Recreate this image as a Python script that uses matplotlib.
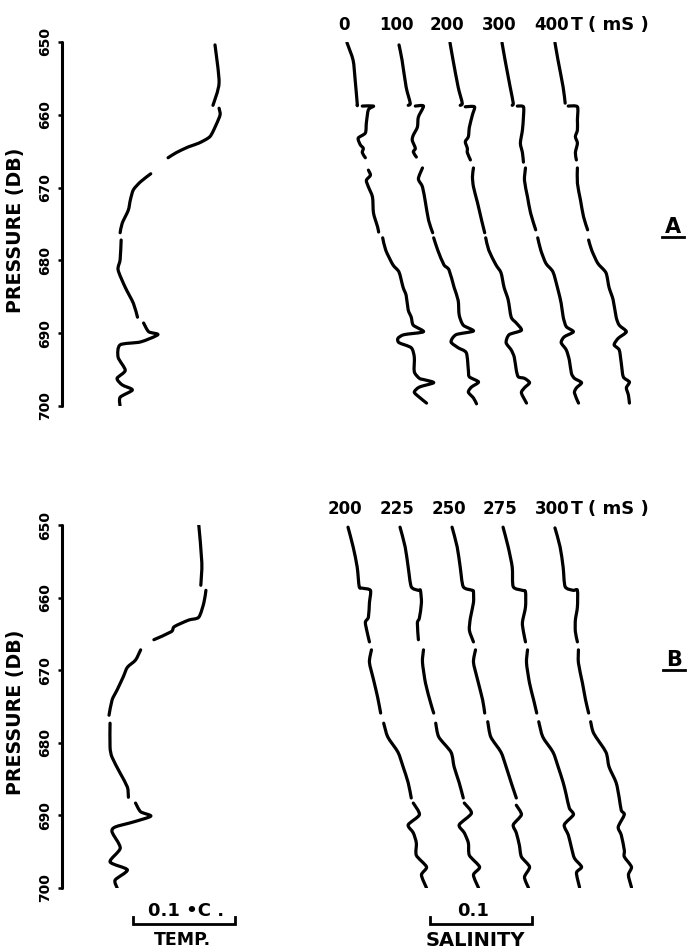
import numpy as np
import matplotlib
matplotlib.use("Agg")
import matplotlib.pyplot as plt
from matplotlib.lines import Line2D
from matplotlib.path import Path
from matplotlib.patches import PathPatch

nan = np.nan

# ---------------------------------------------------------------------------
# Profiles: pressure (dbar) and anomalies in thousandths (m°C / 0.001 salinity)
# nan marks a break in the plotted trace
# ---------------------------------------------------------------------------
temp_a_p = [650.4, 655.6, 658.7, 658.9, 659.1, 660.0, 661.4, 663.0, 663.9, 664.4,
            665.2, 665.9, 667.0, 668.1, 669.2, 670.3, 671.7, 673.1, 674.9, 676.2,
            676.7, 677.2, 679.9, 681.3, 683.7, 685.9, 687.8, 688.2, 688.6, 689.8,
            690.2, 691.2, 691.6, 693.3, 695.1, 696.2, 697.1, 697.8, 698.8, 700.1]
temp_a = [98, 102, 96, nan, 102, 103, 99, 93, 82, 72,
          60, 52, nan, 35, 25, 18, 15, 13, 7, 5,
          nan, 6, 5, 3, 10, 18, 22, nan, 28, 33,
          42, 25, 5, 3, 10, 2, 7, 17, 5, 5]

temp_b_p = [650.0, 655.2, 658.3, 658.6, 659.0, 660.7, 662.7, 663.1, 664.0, 664.7,
            665.8, 666.5, 667.2, 668.6, 669.6, 670.9, 672.7, 674.1, 676.2, 676.8,
            677.3, 680.6, 682.0, 684.2, 686.1, 687.5, 687.9, 688.3, 689.5, 690.1,
            690.9, 691.6, 692.3, 694.5, 696.4, 697.5, 698.9, 700.0]
temp_b = [89, 92, 91, nan, 96, 94, 89, 79, 65, 62,
          45, nan, 32, 27, 19, 15, 9, 4, 1, nan,
          2, 2, 4, 12, 19, 20, nan, 27, 32, 42,
          25, 7, 4, 12, 2, 19, 7, 9]

# Panel A salinity traces, T = 0 ... 400 ms
sal_a0_p = [650.1, 652.5, 655.2, 658.4, 658.7, 658.75, 658.8, 658.8, 659.3, 661.1,
            662.5, 663.2, 664.1, 664.6, 665.2, 665.9, 666.8, 667.6, 668.3, 669.0,
            669.9, 671.3, 673.5, 675.4, 676.1, 676.5, 676.9, 678.6, 680.6, 681.6,
            683.7, 684.8, 686.8, 687.8, 688.9, 689.8, 690.2, 690.7, 691.3, 692.0,
            693.3, 695.3, 696.2, 696.4, 696.8, 697.4, 698.1, 698.8, 699.6]
sal_a0 = [0, 6, 8, 10, 10, nan, 15, 26, 21, 19,
          18, 11, 13, 16, 15, 18, nan, 21, 23, 19,
          21, 25, 26, 30, 31, nan, 35, 38, 45, 51,
          55, 58, 60, 63, 65, 75, 56, 50, 51, 63,
          66, 66, 71, 76, 85, 71, 66, 71, 78]

sal_a1_p = [650.4, 652.5, 656.2, 658.4, 658.7, 658.75, 658.8, 658.8, 660.3, 661.7,
            662.8, 663.5, 664.6, 665.1, 665.8, 666.5, 667.3, 668.8, 669.9, 672.1,
            674.5, 676.2, 676.5, 676.9, 678.6, 680.6, 681.3, 683.7, 685.5, 687.5,
            688.9, 689.7, 690.2, 691.2, 692.0, 692.7, 695.1, 696.0, 696.7, 697.4,
            698.1, 698.9, 699.7]
sal_a1 = [0, 3, 7, 11, 9, nan, 16, 24, 19, 18,
          14, 13, 16, 14, 17, nan, 23, 19, 23, 26,
          29, 33, nan, 34, 38, 44, 49, 54, 58, 59,
          63, 73, 56, 51, 58, 66, 68, 69, 78, 71,
          68, 73, 76]

sal_a2_p = [650.1, 652.5, 656.2, 658.4, 658.7, 658.8, 658.9, 658.9, 660.0, 661.7,
            663.0, 663.7, 664.6, 665.2, 666.2, 666.8, 667.3, 668.5, 669.9, 672.1,
            674.5, 676.2, 676.5, 676.9, 678.6, 680.6, 681.7, 683.7, 685.4, 687.8,
            688.6, 689.6, 690.2, 691.3, 692.3, 693.3, 695.1, 696.0, 696.2, 696.8,
            697.5, 698.2, 699.6]
sal_a2 = [0, 3, 8, 12, 10, nan, 15, 24, 22, 19,
          18, 15, 17, 17, 20, nan, 23, 22, 23, 27,
          31, 34, nan, 35, 38, 45, 50, 53, 57, 60,
          65, 70, 58, 55, 60, 63, 65, 67, 73, 78,
          73, 70, 75]

sal_a3_p = [650.1, 652.5, 656.2, 658.4, 658.7, 658.75, 658.8, 658.9, 660.3, 662.1,
            663.9, 665.2, 666.5, 666.9, 667.3, 669.0, 671.3, 673.5, 675.8, 676.4,
            676.9, 678.6, 680.4, 681.6, 684.1, 685.9, 687.8, 689.1, 689.8, 690.5,
            691.3, 692.3, 693.7, 695.5, 696.2, 696.8, 697.5, 698.2, 699.6]
sal_a3 = [0, 3, 8, 11, 10, nan, 15, 21, 21, 20,
          18, 20, 21, nan, 23, 22, 25, 28, 33, nan,
          35, 38, 43, 50, 55, 58, 60, 63, 70, 61,
          58, 63, 66, 68, 71, 78, 73, 71, 75]

sal_a4_p = [650.1, 652.5, 656.2, 658.4, 658.6, 658.8, 658.9, 660.7, 662.1, 663.0,
            663.9, 665.2, 666.2, 666.8, 667.3, 669.4, 671.7, 674.0, 675.8, 676.5,
            677.2, 678.6, 680.4, 681.7, 683.7, 685.4, 687.8, 688.9, 689.8, 690.7,
            691.6, 692.3, 694.1, 696.0, 696.7, 697.5, 698.5, 699.6]
sal_a4 = [0, 3, 8, 10, nan, 13, 22, 22, 22, 20,
          22, 20, 21, nan, 22, 22, 25, 28, 32, nan,
          33, 36, 42, 50, 53, 57, 60, 63, 70, 62,
          58, 63, 65, 67, 73, 70, 72, 73]

# Panel B salinity traces, T = 200 ... 300 ms
sal_b0_p = [650.3, 653.0, 655.8, 658.5, 658.7, 659.0, 660.7, 662.7, 663.4, 664.9,
            666.1, 666.6, 667.2, 668.9, 671.3, 673.7, 675.9, 676.6, 677.3, 679.2,
            681.3, 683.3, 685.5, 687.6, 688.0, 688.3, 689.9, 691.3, 692.4, 693.8,
            695.5, 697.1, 698.2, 700.0]
sal_b0 = [0, 5, 9, 11, 14, 22, 21, 20, 17, 19,
          21, nan, 23, 21, 25, 29, 32, nan, 35, 39,
          49, 54, 59, 62, nan, 64, 70, 59, 64, 67,
          67, 77, 72, 77]

sal_b1_p = [650.3, 653.0, 655.8, 658.5, 659.0, 659.0, 660.7, 662.8, 663.5, 665.8,
            666.5, 667.2, 668.9, 671.8, 674.5, 675.9, 676.6, 677.3, 679.2, 681.3,
            683.3, 685.5, 687.6, 688.0, 688.3, 689.7, 691.3, 692.4, 693.8, 695.5,
            697.1, 698.2, 700.0]
sal_b1 = [0, 5, 8, 11, 18, 20, 21, 19, 17, 18,
          nan, 23, 22, 25, 30, 33, nan, 35, 38, 50,
          53, 58, 62, nan, 63, 70, 58, 63, 67, 68,
          78, 72, 77]

sal_b2_p = [650.3, 653.0, 655.8, 658.5, 659.0, 659.2, 660.7, 662.8, 664.5, 666.1,
            666.6, 667.2, 668.9, 671.3, 674.1, 675.9, 676.5, 677.1, 679.2, 681.3,
            683.3, 685.5, 687.6, 688.1, 688.6, 689.9, 691.3, 692.4, 694.1, 695.7,
            697.1, 698.5, 700.0]
sal_b2 = [0, 5, 8, 11, 20, 21, 21, 18, 17, 21,
          nan, 23, 21, 25, 30, 32, nan, 35, 38, 48,
          53, 58, 63, nan, 63, 68, 60, 63, 66, 68,
          76, 71, 75]

sal_b3_p = [650.3, 653.0, 655.8, 658.5, 659.0, 659.2, 661.3, 663.4, 664.7, 666.1,
            666.6, 667.2, 669.0, 671.8, 674.1, 675.9, 676.5, 677.1, 679.2, 681.3,
            683.3, 685.5, 687.2, 689.0, 689.9, 691.3, 692.7, 694.4, 695.9, 697.1,
            697.9, 699.9]
sal_b3 = [0, 5, 9, 10, 19, 22, 22, 19, 20, 22,
          nan, 24, 23, 26, 30, 33, nan, 35, 39, 49,
          54, 59, 62, 65, 69, 60, 64, 67, 70, 77,
          72, 75]

sal_b4_p = [650.4, 653.0, 655.8, 658.5, 659.0, 659.0, 661.3, 663.1, 664.7, 666.1,
            666.6, 667.2, 669.0, 671.8, 674.1, 675.9, 676.5, 677.1, 678.7, 681.3,
            683.3, 685.5, 687.6, 689.3, 689.9, 691.6, 692.7, 694.8, 695.7, 697.1,
            698.2, 699.9]
sal_b4 = [0, 5, 8, 10, 18, 22, 22, 20, 20, 22,
          nan, 23, 23, 27, 30, 33, nan, 35, 38, 50,
          53, 60, 63, 65, 68, 62, 65, 68, 68, 75,
          72, 75]

times_a = [0, 100, 200, 300, 400]
times_b = [200, 225, 250, 275, 300]
pressure_ticks = [650, 660, 670, 680, 690, 700]

# ---------------------------------------------------------------------------
# Layout (figure pixels, 100 dpi) and horizontal placement of each trace
# ---------------------------------------------------------------------------
W, H = 692, 952
PX_PER_UNIT = 1.02          # 100 units (0.1 °C or 0.1 salinity) = 102 px
X0 = 62                     # pressure axis line

temp_origin_a = 52.0
temp_origin_b = 45.1
sal_origins_a = [279.4, 330.4, 380.4, 431.4, 483.3]
sal_origins_b = [280.4, 331.4, 382.4, 432.4, 483.3]

font = "DejaVu Sans"

fig = plt.figure(figsize=(W / 100, H / 100), dpi=100)


def fx(px):
    return px / W


def fy(py):
    return 1 - py / H


def make_axes(top_px, bottom_px):
    ax = fig.add_axes([fx(X0), fy(bottom_px), (W - X0) / W, (bottom_px - top_px) / H])
    ax.set_xlim(0, (W - X0) / PX_PER_UNIT)
    ax.set_ylim(700, 650)
    for s in ("top", "right", "bottom"):
        ax.spines[s].set_visible(False)
    ax.spines["left"].set_linewidth(2.2)
    ax.spines["left"].set_capstyle("round")
    ax.set_xticks([])
    ax.set_yticks(pressure_ticks)
    ax.set_yticklabels([str(t) for t in pressure_ticks], rotation=90, va="center",
                       fontsize=10, fontweight="bold", family=font)
    ax.tick_params(axis="y", length=3, width=1.8, pad=4)
    ax.set_ylabel("PRESSURE (DB)", fontsize=13.7, fontweight="bold", family=font,
                  labelpad=0)
    ax.yaxis.set_label_coords(-(X0 - 25) / (W - X0), 0.483)
    ax.patch.set_visible(False)
    return ax


def smooth_trace(ax, xs, ys, tension=1 / 8):
    """Draw a pen-like trace: Catmull-Rom curve through the points, split at nan."""
    xs = np.asarray(xs, float)
    ys = np.asarray(ys, float)
    good = ~np.isnan(xs)
    verts, codes = [], []
    idx = np.flatnonzero(good)
    runs = np.split(idx, np.flatnonzero(np.diff(idx) > 1) + 1)
    for run in runs:
        pts = np.column_stack([xs[run], ys[run]])
        n = len(pts)
        if n == 0:
            continue
        verts.append(pts[0]); codes.append(Path.MOVETO)
        if n == 1:
            continue
        ext = np.vstack([pts[0], pts, pts[-1]])
        for i in range(1, n):
            p0, p1, p2, p3 = ext[i - 1], ext[i], ext[i + 1], ext[i + 2]
            c1 = p1 + (p2 - p0) * tension
            c2 = p2 - (p3 - p1) * tension
            verts.extend([c1, c2, p2])
            codes.extend([Path.CURVE4] * 3)
    patch = PathPatch(Path(verts, codes), facecolor="none", edgecolor="black",
                      lw=2.3, capstyle="round", joinstyle="round")
    ax.add_patch(patch)


ax_a = make_axes(42, 406)
ax_b = make_axes(525, 888)

# Temperature profiles
smooth_trace(ax_a, temp_origin_a + np.array(temp_a), temp_a_p)
smooth_trace(ax_b, temp_origin_b + np.array(temp_b), temp_b_p)

# Salinity time series of profiles
sal_a = [(sal_a0_p, sal_a0), (sal_a1_p, sal_a1), (sal_a2_p, sal_a2),
         (sal_a3_p, sal_a3), (sal_a4_p, sal_a4)]
sal_b = [(sal_b0_p, sal_b0), (sal_b1_p, sal_b1), (sal_b2_p, sal_b2),
         (sal_b3_p, sal_b3), (sal_b4_p, sal_b4)]
for (p, s), x0 in zip(sal_a, sal_origins_a):
    smooth_trace(ax_a, x0 + np.array(s), p)
for (p, s), x0 in zip(sal_b, sal_origins_b):
    smooth_trace(ax_b, x0 + np.array(s), p)


def unit_to_px(u):
    return X0 + u * PX_PER_UNIT


# Time headers above each set of profiles
def header(times, origins, y_px):
    for i, (t, x0) in enumerate(zip(times, origins)):
        xp = unit_to_px(x0) - 3
        fig.text(fx(xp), fy(y_px), str(t), ha="center", va="center",
                 fontsize=12, fontweight="bold", family=font)
        if i == len(times) - 1:
            fig.text(fx(xp + 19), fy(y_px), "T", ha="left", va="center",
                     fontsize=12.5, fontweight="bold", family=font)
            fig.text(fx(xp + 36), fy(y_px), "( mS )", ha="left", va="center",
                     fontsize=13, fontweight="bold", family=font)


header(times_a, sal_origins_a, 25)
header(times_b, sal_origins_b, 509)


# Panel letters, underlined
def panel_letter(letter, x_px, y_px):
    fig.text(fx(x_px), fy(y_px), letter, ha="center", va="center",
             fontsize=15, fontweight="bold", family=font)
    fig.add_artist(Line2D([fx(x_px - 11), fx(x_px + 11)], [fy(y_px + 10), fy(y_px + 10)],
                          color="black", lw=2.0, transform=fig.transFigure))


panel_letter("A", 673, 227)
panel_letter("B", 674, 660)


# Scale bars under the lower panel
def scale_bar(x_left_px, value_label, name, label_cx, name_cx, name_size):
    y_bar = 924
    x_right = x_left_px + 100 * PX_PER_UNIT
    fig.add_artist(Line2D([fx(x_left_px), fx(x_left_px), fx(x_right), fx(x_right)],
                          [fy(917), fy(y_bar), fy(y_bar), fy(917)],
                          color="black", lw=2.0, transform=fig.transFigure,
                          solid_joinstyle="miter"))
    fig.text(fx(label_cx), fy(911), value_label, ha="center", va="center",
             fontsize=13, fontweight="bold", family=font)
    fig.text(fx(name_cx), fy(940), name, ha="center", va="center",
             fontsize=name_size, fontweight="bold", family=font)


scale_bar(133, "0.1 \u2022C .", "TEMP.", 186, 182, 12.5)
scale_bar(430, "0.1", "SALINITY", 473, 475, 14)

fig.savefig("out.png", dpi=100)
